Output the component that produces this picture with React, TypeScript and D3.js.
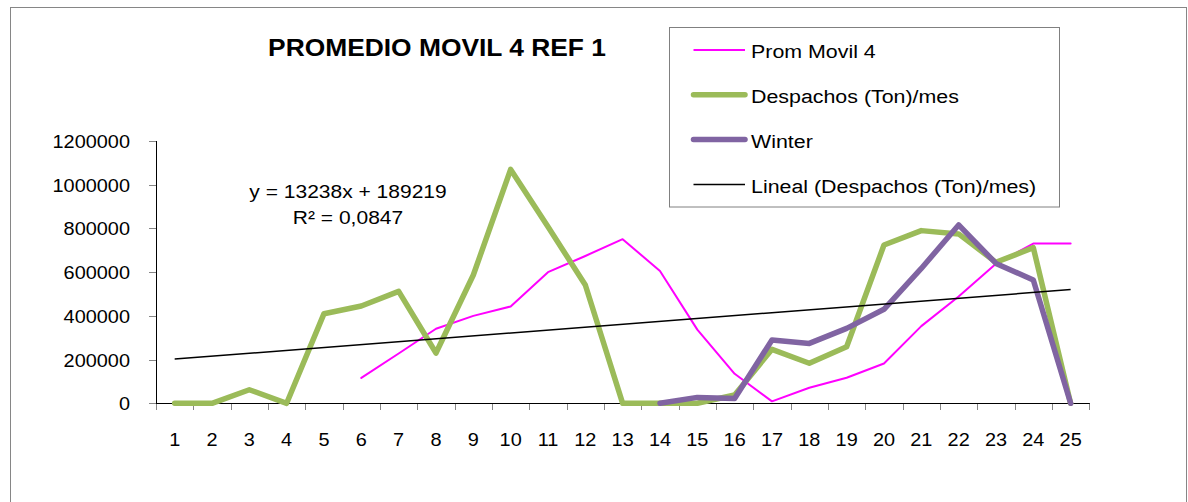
import React, { useEffect, useRef } from "react";
import * as d3 from "d3";

// months on the x axis
const months = [1, 2, 3, 4, 5, 6, 7, 8, 9, 10, 11, 12, 13, 14, 15, 16, 17, 18, 19, 20, 21, 22, 23, 24, 25];

// Despachos (Ton)/mes
const despachos = [
  0, 0, 62000, 0, 410000, 445000, 512000, 230000, 587000, 1070000, 808000, 541000, 0,
  0, 0, 38000, 247000, 183000, 259000, 724000, 790000, 775000, 645000, 712000, 0,
];

// Prom Movil 4
const promMovil = [
  null, null, null, null, null, 116000, 228000, 341000, 400000, 443000, 600000, 674000, 751000,
  605000, 337000, 135000, 9000, 71000, 117000, 182000, 353000, 489000, 638000, 731000, 731000,
];

// Winter
const winter = [
  null, null, null, null, null, null, null, null, null, null, null, null, null,
  0, 27000, 22000, 290000, 274000, 343000, 430000, 617000, 816000, 640000, 564000, 0,
];

const yTicks = [0, 200000, 400000, 600000, 800000, 1000000, 1200000];

// linear trend of Despachos, as printed on the chart
const trendSlope = 13238;
const trendIntercept = 189219;
const trendLabel = "y = 13238x + 189219";
const r2Label = "R² = 0,0847";

const title = "PROMEDIO MOVIL 4 REF 1";
const legendNames = ["Prom Movil 4", "Despachos (Ton)/mes", "Winter", "Lineal (Despachos (Ton)/mes)"];

export default function App() {
  const svgRef = useRef<SVGSVGElement>(null);
  const width = 1188;
  const height = 502;
  const font = "Arial, 'Liberation Sans', sans-serif";

  useEffect(() => {
    const svg = d3.select(svgRef.current);
    svg.selectAll("*").remove();

    const addText = (x, y, str, size, anchor = "start", weight = "normal", sx = 1.13) => {
      svg
        .append("text")
        .attr("transform", `translate(${x},${y}) scale(${sx},1)`)
        .attr("text-anchor", anchor)
        .attr("font-family", font)
        .attr("font-size", size)
        .attr("font-weight", weight)
        .attr("fill", "#000")
        .text(str);
    };

    // outer frame
    svg
      .append("rect")
      .attr("x", 10.5)
      .attr("y", 7.5)
      .attr("width", 1176)
      .attr("height", 520)
      .attr("fill", "#fff")
      .attr("stroke", "#868686");

    const xScale = d3.scaleBand<number>().domain(months).range([156, 1089.3]);
    const xPos = (m: number) => xScale(m)! + xScale.bandwidth() / 2;
    const yScale = d3.scaleLinear().domain([0, 1200000]).range([403.3, 141]);

    // y axis
    yTicks.forEach((t) => {
      const y = Math.round(yScale(t)) + 0.5;
      svg
        .append("line")
        .attr("x1", 149)
        .attr("x2", 156)
        .attr("y1", y)
        .attr("y2", y)
        .attr("stroke", "#868686");
      addText(130, y + 6.7, String(t), 18.6, "end", "normal", 1.07);
    });
    svg
      .append("line")
      .attr("x1", 156.5)
      .attr("x2", 156.5)
      .attr("y1", yScale(1200000))
      .attr("y2", yScale(0))
      .attr("stroke", "#000");

    // x axis
    const bounds = months.map((m) => xScale(m)!).concat([xScale.range()[1]]);
    bounds.forEach((b) => {
      const x = Math.round(b) + 0.5;
      svg
        .append("line")
        .attr("x1", x)
        .attr("x2", x)
        .attr("y1", 403)
        .attr("y2", 410)
        .attr("stroke", "#868686");
    });
    svg
      .append("line")
      .attr("x1", 156)
      .attr("x2", xScale.range()[1] + 0.5)
      .attr("y1", Math.round(yScale(0)) + 0.5)
      .attr("y2", Math.round(yScale(0)) + 0.5)
      .attr("stroke", "#000");
    months.forEach((m) => addText(xPos(m), 445.7, String(m), 18.6, "middle", "normal", 1.07));

    const line = d3
      .line<number | null>()
      .defined((d) => d !== null)
      .x((d, i) => xPos(months[i]))
      .y((d) => yScale(d as number));

    const series = [
      { data: promMovil, color: "#FF00FF", w: 2 },
      { data: despachos, color: "#9BBB59", w: 5.5 },
      { data: winter, color: "#8064A2", w: 5.5 },
    ];
    series.forEach((s) => {
      svg
        .append("path")
        .attr("d", line(s.data))
        .attr("fill", "none")
        .attr("stroke", s.color)
        .attr("stroke-width", s.w)
        .attr("stroke-linejoin", "round")
        .attr("stroke-linecap", "round");
    });

    // trend line
    const first = months[0];
    const last = months[months.length - 1];
    svg
      .append("line")
      .attr("x1", xPos(first))
      .attr("x2", xPos(last))
      .attr("y1", yScale(trendSlope * first + trendIntercept))
      .attr("y2", yScale(trendSlope * last + trendIntercept))
      .attr("stroke", "#000")
      .attr("stroke-width", 1.5);

    addText(348, 198.3, trendLabel, 18.6, "middle");
    addText(348, 224.3, r2Label, 18.6, "middle");

    // title
    addText(437, 56, title, 24.3, "middle", "bold", 1.085);

    // legend
    svg
      .append("rect")
      .attr("x", 669.5)
      .attr("y", 27.5)
      .attr("width", 390)
      .attr("height", 179.5)
      .attr("fill", "#fff")
      .attr("stroke", "#808080");
    const legendStyle = [
      { color: "#FF00FF", w: 2 },
      { color: "#9BBB59", w: 5.5 },
      { color: "#8064A2", w: 5.5 },
      { color: "#000", w: 1.5 },
    ];
    legendNames.forEach((name, i) => {
      const y = 50 + i * 44.8;
      svg
        .append("line")
        .attr("x1", 693.5)
        .attr("x2", 745)
        .attr("y1", y)
        .attr("y2", y)
        .attr("stroke", legendStyle[i].color)
        .attr("stroke-width", legendStyle[i].w)
        .attr("stroke-linecap", legendStyle[i].w > 3 ? "round" : "butt");
      addText(751, y + 8.3, name, 18.6, "start", "normal", 1.15);
    });
  }, []);

  return (
    <svg
      ref={svgRef}
      width={width}
      height={height}
      style={{ position: "absolute", left: 0, top: 0, display: "block" }}
    ></svg>
  );
}
